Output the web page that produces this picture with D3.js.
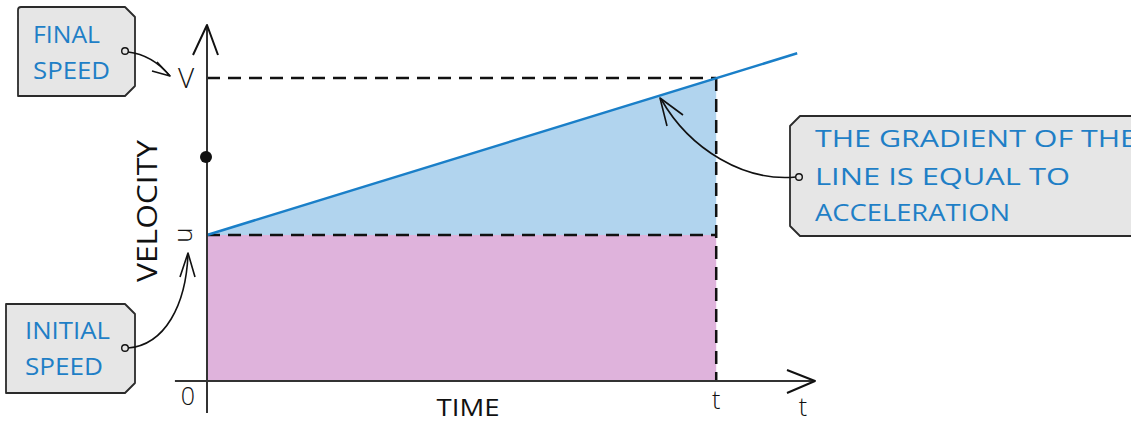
<!DOCTYPE html>
<html><head><meta charset="utf-8">
<script src="https://cdn.jsdelivr.net/npm/d3@7"></script>
<style>html,body{margin:0;padding:0;background:#fff;}svg{display:block;}</style>
</head><body>
<svg id="c" width="1131" height="423"></svg>
<script>
// ---- data ----
const timePoints = [0, 1];            // 0 and t
const velocityPoints = [2, 4.15];     // u and V
const lineEnd = [1.159, 4.49];        // extension of the line beyond t
const dotValue = [3.07];              // marked point on velocity axis
const yTickLabels = ["u", "V"];
const xTickLabels = ["0", "t"];
const axisLabels = ["TIME", "VELOCITY"];
const callouts = ["FINAL|SPEED", "INITIAL|SPEED", "THE GRADIENT OF THE|LINE IS EQUAL TO|ACCELERATION"];

const svg = d3.select("#c");
const x = d3.scaleLinear().domain([0, 1.194]).range([207, 815]);
const y = d3.scaleLinear().domain([0, 4.877]).range([381, 25]);

const blue = "#1a7fc8", textBlue = "#1f7fc6", axisCol = "#333", pink = "#dfb3dc", lightBlue = "#b1d4ee";
const font = "'Open Sans', Lato, sans-serif";

const u = velocityPoints[0], V = velocityPoints[1], t = timePoints[1];

// pink rectangle
svg.append("rect").attr("x", x(0)).attr("y", y(u))
  .attr("width", x(t) - x(0)).attr("height", y(0) - y(u)).attr("fill", pink);
// blue triangle
svg.append("path").attr("d", d3.line()([[x(0), y(u)], [x(t), y(V)], [x(t), y(u)]]) + "Z")
  .attr("fill", lightBlue);

// dashed lines
const dash = [[[x(0), y(V)], [x(t), y(V)]], [[x(0), y(u)], [x(t), y(u)]], [[x(t), y(V)], [x(t), y(0)]]];
dash.forEach(d => svg.append("path").attr("d", d3.line()(d)).attr("stroke", "#111")
  .attr("stroke-width", 2.5).attr("stroke-dasharray", "13,8").attr("fill", "none"));

// velocity line
svg.append("path").attr("d", d3.line()([[x(0), y(u)], [x(lineEnd[0]), y(lineEnd[1])]]))
  .attr("stroke", blue).attr("stroke-width", 2.5).attr("fill", "none");

// axes
svg.append("path").attr("d", d3.line()([[x(0), y(0) + 32], [x(0), y(4.877)]]))
  .attr("stroke", axisCol).attr("stroke-width", 2).attr("fill", "none");
svg.append("path").attr("d", d3.line()([[x(-0.063), y(0)], [x(1.194), y(0)]]))
  .attr("stroke", axisCol).attr("stroke-width", 2).attr("fill", "none");
// arrowheads
svg.append("path").attr("d", `M${x(0) - 14},${y(4.877) + 30} L${x(0)},${y(4.877)} L${x(0) + 11},${y(4.877) + 30}`)
  .attr("stroke", "#111").attr("stroke-width", 2).attr("fill", "none").attr("stroke-linejoin", "round");
svg.append("path").attr("d", `M${x(1.194) - 28},${y(0) - 11} L${x(1.194)},${y(0)} L${x(1.194) - 28},${y(0) + 12}`)
  .attr("stroke", "#111").attr("stroke-width", 2).attr("fill", "none").attr("stroke-linejoin", "round");

// dot
svg.append("circle").attr("cx", x(0) - 1).attr("cy", y(dotValue[0])).attr("r", 6).attr("fill", "#111");

// tick labels
const lbl = (tx, ty, s, size, rot) => {
  const g = svg.append("text").attr("x", tx).attr("y", ty).text(s)
    .attr("font-family", font).attr("font-size", size).attr("fill", "#111").attr("text-anchor", "middle");
  if (rot) g.attr("transform", `rotate(-90,${tx},${ty})`);
  return g;
};
lbl(186, y(V) + 10, yTickLabels[1], 28).attr("font-weight", 300);
lbl(192, y(u), yTickLabels[0], 26, true).attr("font-weight", 300);
lbl(188, 405, xTickLabels[0], 25).attr("font-weight", 300);
lbl(x(t), 409, xTickLabels[1], 25).attr("font-weight", 300);
lbl(803, 416, xTickLabels[1], 25).attr("font-weight", 300);
lbl(468, 416, axisLabels[0], 23).attr("textLength", 63).attr("lengthAdjust", "spacingAndGlyphs");
lbl(157, 211, axisLabels[1], 27, true).attr("textLength", 142).attr("lengthAdjust", "spacingAndGlyphs");

// callout boxes
const boxStyle = p => svg.append("path").attr("d", p).attr("fill", "#e6e6e6")
  .attr("stroke", "#2b2b2b").attr("stroke-width", 1.8).attr("stroke-linejoin", "round");
boxStyle("M18,10 Q18,7 21,7 L125,7 L135,17 L135,86 L125,96 L18,96 Z");
boxStyle("M6,304 L125,304 L135,314 L135,383 L125,393 L6,393 Z");
boxStyle("M800,116 L1140,116 L1140,236 L800,236 L790,226 L790,126 Z");

const boxText = (lines, x0, y0s, widths) => lines.split("|").forEach((s, i) => {
  svg.append("text").attr("x", x0).attr("y", y0s[i]).text(s)
    .attr("font-family", font).attr("font-size", 24).attr("fill", textBlue)
    .attr("textLength", widths[i]).attr("lengthAdjust", "spacingAndGlyphs");
});
boxText(callouts[0], 33, [43, 79], [67, 77]);
boxText(callouts[1], 25, [339, 375], [85, 78]);
boxText(callouts[2], 815, [147, 185, 221], [322, 255, 195]);

// callout connectors
const conn = (cx, cy, d, head) => {
  svg.append("path").attr("d", d).attr("stroke", "#111").attr("stroke-width", 1.6).attr("fill", "none");
  svg.append("path").attr("d", head).attr("stroke", "#111").attr("stroke-width", 1.6).attr("fill", "none")
    .attr("stroke-linejoin", "round");
  svg.append("circle").attr("cx", cx).attr("cy", cy).attr("r", 3.3).attr("fill", "#e6e6e6")
    .attr("stroke", "#111").attr("stroke-width", 1.4);
};
conn(125, 51, "M128,52 C145,54 160,64 170,76", "M157,62 L170,76 L152,71");
conn(125, 348, "M128,348 C165,345 186,305 188,254", "M180,277 L188,253 L195,277");
conn(799, 177, "M796,177 C745,182 690,150 661,99", "M667,126 L660,98 L683,115");
</script>
</body></html>
